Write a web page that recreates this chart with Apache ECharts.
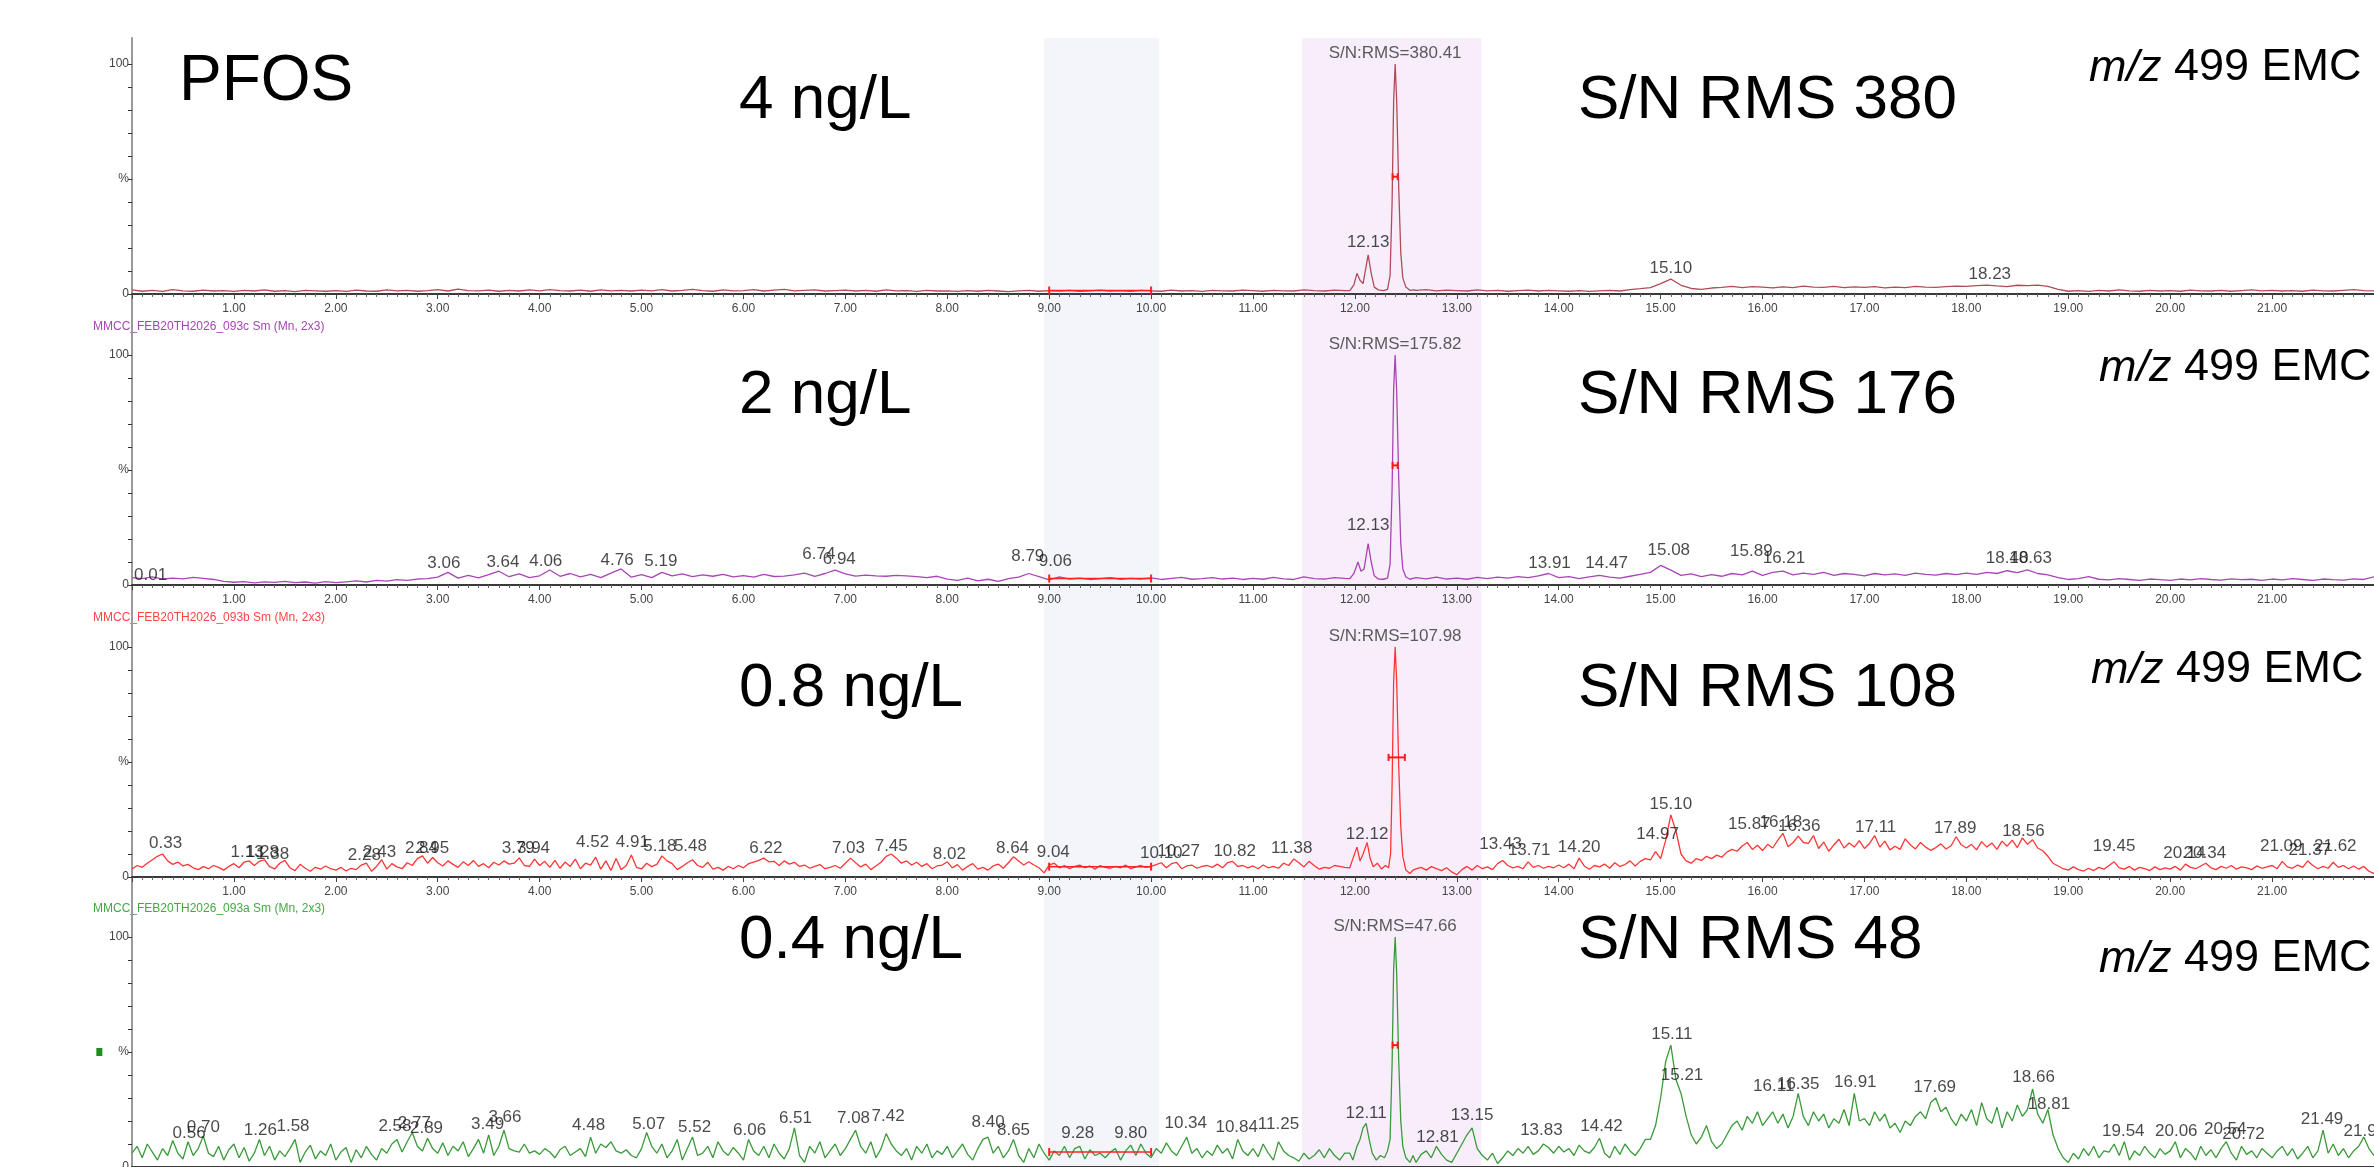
<!DOCTYPE html>
<html><head><meta charset="utf-8">
<script src="https://cdn.jsdelivr.net/npm/echarts@6/dist/echarts.min.js"></script>
<style>html,body{margin:0;padding:0;background:#fff}#c{width:2374px;height:1167px}</style>
</head><body><div id="c"></div>
<script>
// ---------------- DATA (retention time in min, intensity in % of base peak) ----------------
const STEP_COARSE = 0.1;   // sampling of traces 1 & 2
const STEP_FINE = 0.05;    // sampling of traces 3 & 4

// 4 ng/L trace, t = 0.0 .. 22.0 every 0.1 min
const trace4ngBase = [
1.8,1.2,1.6,1.1,1.9,1.4,1.2,1.7,1.3,1.5,
1.1,1.6,1.3,1.8,1.2,1.5,1.0,1.6,1.4,1.2,
1.5,1.1,1.7,1.3,1.2,1.8,1.4,1.6,1.2,1.5,
1.9,1.3,2.1,1.5,1.4,1.7,1.2,1.6,1.3,1.8,
1.4,1.9,1.5,1.3,1.7,1.2,1.8,1.4,1.6,1.3,
1.7,1.4,1.9,1.3,1.6,2.0,1.5,1.2,1.8,1.4,
1.5,1.9,1.3,1.7,2.0,1.4,1.6,1.8,1.3,1.5,
1.7,1.3,1.6,1.2,1.8,1.4,1.5,1.1,1.6,1.3,
1.4,1.1,1.5,1.2,1.6,1.3,1.0,1.4,1.6,1.2,
1.5,1.3,1.6,1.2,1.4,1.7,1.3,1.5,1.2,1.6,
1.4,1.2,1.7,1.3,1.5,1.1,1.6,1.4,1.3,1.7,
1.5,1.2,1.6,1.4,1.3,1.8,1.5,1.3,1.7,1.5,
4,9,6,17,3,2,1.6,1.9,1.4,1.7,
1.5,1.3,1.8,1.4,1.6,1.2,1.5,1.7,1.3,1.6,
1.4,1.2,1.5,1.1,1.4,1.6,1.3,1.9,2.3,2.8,
4.5,6.5,3.8,2.4,2.0,2.6,2.9,3.3,2.8,3.2,
3.0,2.7,3.1,2.8,3.4,3.0,2.9,3.3,2.8,3.1,
2.9,3.2,2.7,3.0,2.8,3.3,3.0,2.9,3.2,3.4,
3.3,3.6,3.9,3.5,3.2,3.8,3.6,3.9,3.3,2.0,
1.2,1.5,1.1,1.6,1.3,1.8,1.4,1.2,1.6,1.3,
1.5,1.2,1.7,1.4,1.3,1.6,1.2,1.5,1.8,1.4,
1.6,1.3,1.5,1.2,1.7,1.4,1.3,1.6,1.9,1.5,
1.4];
const trace4ngPeak = [[11.95,1.5],[11.99,4],[12.02,9],[12.05,6],[12.08,4.5],[12.11,12],[12.13,17],[12.16,9],[12.19,3],[12.23,1.8],[12.28,1.5],[12.32,2],[12.345,8],[12.365,40],[12.38,84],[12.395,100],[12.41,84],[12.43,46],[12.45,18],[12.47,7],[12.50,3],[12.54,1.6],[12.58,1.8]];
const labels4ng = [[12.13,17.4],[15.10,6.1],[18.23,3.5]];
const sn4ng = 'S/N:RMS=380.41';

// 2 ng/L trace, t = 0.0 .. 22.0 every 0.1 min
const trace2ngBase = [
3.2,2.8,3.5,2.6,3.0,2.7,3.3,2.9,2.4,1.6,
1.2,1.5,0.9,1.4,1.1,1.6,1.0,1.3,0.8,1.5,
1.0,1.4,1.8,1.3,2.0,1.7,2.3,2.0,2.6,2.8,
3.4,5.5,3.0,4.2,3.1,4.5,6.0,3.6,4.8,3.2,
4.0,6.5,3.8,5.0,3.5,4.6,3.2,5.2,7.0,3.4,
4.5,3.2,5.5,4.0,4.8,3.6,4.4,3.8,4.6,3.5,
4.1,3.4,4.6,3.7,3.9,4.4,5.2,3.8,5.0,6.5,
4.8,3.9,4.3,4.0,3.8,4.2,4.0,3.6,3.2,3.8,
2.6,2.0,3.0,1.8,2.5,1.6,2.8,3.4,5.0,3.6,
2.2,3.5,2.6,3.0,2.4,2.8,3.2,2.5,2.9,2.6,
3.1,2.4,2.9,3.3,2.5,2.8,3.2,2.6,3.0,2.4,
2.9,2.5,3.3,2.7,2.4,3.5,2.8,2.6,3.2,2.9,
3.0,6.0,10,18,3.0,3.0,3.2,2.7,3.4,2.6,
3.0,2.5,3.3,2.8,3.4,3.0,3.6,3.2,4.0,5.0,
3.2,3.6,2.8,3.5,4.2,3.4,3.0,3.8,4.6,5.5,
8.5,6.5,4.2,4.8,3.6,4.5,3.8,5.0,4.4,6.0,
4.2,5.5,6.0,4.4,5.2,4.6,5.5,4.2,5.0,4.6,
4.0,5.0,4.4,4.8,4.2,5.2,4.6,4.3,5.0,4.5,
5.2,4.6,5.5,5.0,6.2,5.4,6.6,5.0,4.4,3.2,
2.4,2.8,3.6,2.5,2.2,2.8,2.4,2.0,2.6,2.3,
2.0,2.6,2.2,2.8,2.4,2.1,2.7,2.3,2.5,2.0,
2.6,2.2,2.8,2.4,2.0,2.6,2.3,2.1,2.7,2.4,
3.5];
const trace2ngPeak = [[11.95,2.8],[11.99,5],[12.03,10],[12.06,6],[12.09,7],[12.13,18],[12.16,10],[12.19,4],[12.23,2.6],[12.28,2.5],[12.32,3],[12.345,9],[12.365,42],[12.38,85],[12.395,100],[12.41,84],[12.43,46],[12.45,18],[12.47,7],[12.50,3.5],[12.54,2.5],[12.58,3]];
const labels2ng = [[0.01,6.5],[3.06,4.3],[3.64,4.8],[4.06,5.2],[4.76,5.7],[5.19,5.2],[6.74,8.3],[6.94,6.1],[8.79,7.4],[9.06,5.2],[12.13,20.9],[13.91,4.3],[14.47,4.3],[15.08,10],[15.89,9.6],[16.21,6.5],[18.40,6.5],[18.63,6.5]];
const sn2ng = 'S/N:RMS=175.82';

// 0.8 ng/L trace, t = 0.00 .. 22.00 every 0.05 min
const trace08ngBase = [
3.5,5.0,4.2,6.0,7.5,9.0,10.0,7.0,5.5,6.5,4.8,5.5,4.0,3.2,4.5,3.6,5.0,4.2,3.0,4.6,
5.8,4.0,6.5,7.0,5.0,6.8,7.5,4.5,3.5,6.0,7.2,4.0,2.8,5.5,3.8,2.5,4.2,3.4,4.8,3.6,
3.0,4.2,2.6,3.8,3.2,5.2,6.0,2.5,4.6,7.5,3.4,5.8,4.4,3.6,6.2,5.0,8.0,9.2,6.0,8.5,
6.2,4.8,7.0,5.5,4.2,6.6,5.0,7.2,4.6,5.8,4.0,6.4,5.2,7.0,5.6,6.0,8.3,5.0,4.6,7.8,
5.0,6.8,4.2,7.2,3.8,6.5,4.6,7.8,3.6,6.0,5.2,8.6,3.4,7.0,2.8,8.0,3.2,5.0,9.6,4.2,
3.5,6.0,4.5,5.5,9.2,7.0,5.8,3.2,4.6,6.2,7.5,5.0,4.2,6.4,3.4,4.2,3.0,4.6,3.6,5.0,
4.0,5.8,6.5,7.2,8.2,6.6,6.8,5.0,7.0,5.6,6.4,4.6,5.2,3.8,4.6,5.4,3.6,4.2,5.0,3.8,
6.0,8.2,6.2,4.4,5.6,3.2,4.8,6.4,9.0,10.0,8.2,6.0,7.0,5.2,6.4,4.6,5.8,3.6,4.8,5.2,
6.6,4.0,5.4,3.0,4.6,5.8,3.4,4.2,3.0,4.8,5.6,3.8,6.2,8.8,7.0,5.2,6.6,5.2,4.0,1.8,
5.2,6.0,4.0,5.0,3.6,4.6,5.2,4.0,4.8,3.4,5.0,4.2,3.8,4.6,4.0,5.2,3.6,4.4,5.0,4.2,
4.6,5.4,6.2,4.0,5.8,6.4,3.6,4.8,5.2,3.8,4.6,5.0,4.2,5.6,4.0,6.2,6.8,4.6,5.0,4.0,
4.8,3.6,5.2,4.0,4.6,3.8,6.0,5.0,7.8,6.2,4.4,6.8,5.0,3.4,4.2,3.8,5.0,4.6,4.2,5.4,
13,7,15,6,4,10,100,60,5,2,2,2,3.5,4.2,3.0,4.5,3.6,2.8,4.0,2.2,
1.0,3.2,4.6,3.0,5.0,3.6,4.4,3.2,5.8,7.2,5.0,4.0,4.6,3.6,6.6,4.2,5.0,3.8,4.6,4.0,
5.2,4.0,5.6,3.6,8.2,4.8,3.4,5.0,4.4,5.6,3.8,6.2,4.6,5.4,7.0,4.8,6.8,8.0,7.4,11.0,
8.0,16.0,27.0,20.0,10.0,7.0,6.0,8.0,7.2,9.0,8.0,9.5,8.6,10.8,12.0,11.2,13.5,15.0,12.0,13.8,
11.5,14.2,12.6,16.0,19.0,13.2,15.0,17.8,15.0,14.6,18.0,12.4,15.2,11.2,14.0,16.4,12.6,14.8,13.0,15.8,
12.4,14.6,18.0,13.0,15.6,11.8,13.4,12.0,16.6,14.0,12.2,15.0,13.0,11.6,12.8,14.4,12.2,13.6,17.5,14.0,
12.6,14.2,11.8,15.4,13.0,14.8,12.0,15.6,13.4,16.0,12.8,17.0,14.2,16.2,12.6,11.4,9.0,6.0,4.8,3.6,
3.0,4.4,3.2,2.6,3.8,2.8,4.2,3.4,5.0,6.6,4.0,3.4,4.6,3.0,4.2,3.6,2.8,4.4,3.2,4.0,
3.4,4.6,3.0,5.6,4.2,3.6,4.8,6.0,4.0,3.2,4.6,3.8,5.0,3.4,4.4,4.0,3.2,4.8,3.8,4.4,
5.0,3.6,6.8,4.4,3.8,5.2,4.2,7.0,5.0,3.6,4.6,3.8,6.4,4.2,5.0,3.6,4.8,3.4,4.6,2.5,
1.5];
const trace08ngPeak = [[11.95,4.0],[11.98,8],[12.02,13],[12.05,7],[12.08,10],[12.12,15],[12.15,8],[12.18,4.5],[12.22,6],[12.26,3.5],[12.30,5],[12.33,4],[12.35,10],[12.365,40],[12.38,85],[12.395,100],[12.41,85],[12.43,48],[12.45,22],[12.47,9],[12.50,3],[12.54,1.5],[12.57,3]];
const labels08ng = [[0.33,9.6],[1.13,5.7],[1.28,5.7],[1.38,4.8],[2.28,4.3],[2.43,5.7],[2.84,7.4],[2.95,7.4],[3.79,7.4],[3.94,7.4],[4.52,10],[4.91,10],[5.18,8.3],[5.48,8.3],[6.22,7.4],[7.03,7.4],[7.45,8.3],[8.02,4.8],[8.64,7.4],[9.04,5.7],[10.10,5.2],[10.27,6.1],[10.82,6.1],[11.38,7.4],[12.12,13.5],[13.43,9.1],[13.71,6.5],[14.20,7.8],[14.97,13.5],[15.10,26.5],[15.87,17.8],[16.18,18.7],[16.36,17],[17.11,16.5],[17.89,16.1],[18.56,14.8],[19.45,8.3],[20.14,5.2],[20.34,5.2],[21.09,8.3],[21.37,6.5],[21.62,8.3]];
const sn08ng = 'S/N:RMS=107.98';

// 0.4 ng/L trace, t = 0.00 .. 22.00 every 0.05 min
const trace04ngBase = [
6.0,9.0,4.0,10.0,6.5,3.0,8.0,5.0,11.5,6.0,3.5,11.0,5.0,8.0,13.5,6.0,4.5,9.0,3.0,7.5,
10.0,4.0,8.5,2.5,6.0,12.0,5.0,9.0,3.0,7.0,4.5,8.0,12.0,2.0,6.5,9.5,3.5,7.0,5.0,10.0,
3.0,6.5,8.5,2.0,7.5,4.0,9.0,5.5,3.0,8.0,6.0,10.0,12.0,6.5,11.0,15.0,9.0,7.0,12.5,8.0,
6.0,10.5,5.0,9.0,7.0,11.0,4.5,8.0,12.0,6.0,14.0,5.0,9.0,16.0,8.0,7.0,6.5,10.0,6.0,7.0,
5.5,8.0,6.5,4.0,7.5,9.0,5.0,6.5,8.0,4.5,13.0,6.0,10.0,8.5,11.0,7.0,6.0,7.5,5.0,4.0,
8.0,15.0,9.0,6.0,10.0,4.0,7.0,12.0,3.0,8.0,13.0,5.0,6.0,9.0,4.0,11.0,7.0,5.0,8.5,6.0,
3.0,12.0,7.0,5.0,9.0,4.0,10.0,6.0,3.5,8.0,17.0,5.0,2.0,9.0,6.0,11.0,4.0,7.0,10.0,5.0,
8.0,12.0,16.0,9.0,6.0,11.0,4.0,8.0,14.5,10.0,7.0,5.0,8.0,3.0,9.0,6.0,10.0,4.0,7.0,5.5,
9.0,4.0,7.0,10.0,5.5,3.0,8.0,12.0,13.0,6.0,9.0,4.0,7.0,12.0,5.0,2.0,8.0,4.0,10.0,6.0,
3.0,7.0,5.0,9.0,4.0,8.0,9.0,3.5,7.5,5.0,6.0,4.0,6.5,8.0,3.0,7.0,9.5,5.0,10.0,6.0,
4.0,8.0,6.0,10.5,7.0,5.0,9.0,13.0,6.0,8.0,4.0,7.0,5.0,9.5,6.0,8.0,3.5,12.0,7.0,5.0,
8.0,4.5,10.0,6.0,3.0,11.0,7.0,5.0,4.0,2.5,6.0,3.5,5.0,7.5,4.0,8.0,5.0,3.0,6.0,10.0,
9,12,19,6,4,7,100,50,9,4,2,2,2.0,5.5,7.0,4.0,9.0,5.5,3.0,2.0,
6.0,10.0,14.0,17.0,8.0,5.0,3.0,6.0,1.5,4.0,7.0,5.0,8.0,6.0,9.0,5.5,7.0,10.0,8.5,6.0,
9.0,6.5,8.0,5.0,9.5,7.0,6.0,8.5,12.5,6.0,4.0,9.0,5.5,10.0,7.0,5.0,8.0,12.0,12.0,18.0,
30.0,46.0,53.0,38.0,32.0,22.0,14.0,10.0,13.0,18.0,11.0,8.0,10.0,14.0,18.0,20.0,16.0,22.0,19.0,24.0,
18.0,21.0,24.0,19.0,23.0,17.0,22.0,32.0,22.0,18.0,24.0,20.0,23.0,17.0,21.0,19.0,25.0,18.0,32.0,20.0,
21.0,18.0,24.0,20.0,23.0,17.0,19.0,15.0,20.0,18.0,22.0,24.0,21.0,28.0,30.0,24.0,26.0,21.0,18.0,23.0,
20.0,25.0,18.0,28.0,21.0,19.0,26.0,17.0,24.0,20.0,27.0,22.0,25.0,34.0,23.0,19.0,25.0,14.0,8.0,4.0,
2.0,6.0,3.5,8.0,5.0,9.0,4.0,7.0,6.5,10.0,5.0,11.0,3.0,7.0,5.0,9.0,6.0,4.0,8.0,5.5,
7.0,11.0,4.0,8.0,6.0,3.0,9.0,5.0,7.5,4.0,8.0,11.0,6.0,3.0,9.0,5.5,7.0,4.0,8.0,6.0,
4.0,7.0,9.0,5.0,8.0,3.5,6.0,9.0,4.0,7.0,16.0,6.0,10.0,5.0,8.0,4.0,7.0,9.0,13.0,8.0,
5.0];
const trace04ngPeak = [[11.95,6],[11.98,3],[12.02,9],[12.05,12],[12.08,17],[12.11,19],[12.14,12],[12.17,6],[12.21,3],[12.25,5],[12.29,4],[12.32,7],[12.345,12],[12.365,45],[12.38,86],[12.395,100],[12.41,84],[12.43,46],[12.45,20],[12.47,9],[12.50,4],[12.54,2],[12.57,5]];
const labels04ng = [[0.56,9.6],[0.70,12.2],[1.26,10.9],[1.58,12.6],[2.58,12.6],[2.77,13.9],[2.89,11.7],[3.49,13.5],[3.66,16.5],[4.48,13],[5.07,13.5],[5.52,12.2],[6.06,10.9],[6.51,16.1],[7.08,16.1],[7.42,17],[8.40,14.3],[8.65,10.9],[9.28,9.6],[9.80,9.6],[10.34,13.9],[10.84,12.2],[11.25,13.5],[12.11,18.3],[12.81,7.8],[13.15,17.4],[13.83,10.9],[14.42,12.6],[15.11,52.6],[15.21,34.8],[16.11,30],[16.35,30.9],[16.91,31.7],[17.69,29.6],[18.66,33.9],[18.81,22.2],[19.54,10.4],[20.06,10.4],[20.54,11.3],[20.72,9.1],[21.49,15.7],[21.91,10.4]];
const sn04ng = 'S/N:RMS=47.66';

// noise window (min) and its level per trace, peak-width marker level
const noiseWindow = [9.0, 10.0];
const noiseLevels = [1.5, 2.8, 4.5, 6.5];
const halfWidthMarks = [[12.37,12.42,51],[12.37,12.42,52],[12.33,12.49,52],[12.37,12.42,53]];
// highlighted time windows (min)
const windowsBlue = [8.95, 10.08];
const windowsPurple = [11.48, 13.24];

const concentrations = ['4 ng/L', '2 ng/L', '0.8 ng/L', '0.4 ng/L'];
const snText = ['S/N RMS 380', 'S/N RMS 176', 'S/N RMS 108', 'S/N RMS 48'];
const fileNames = ['MMCC_FEB20TH2026_093c Sm (Mn, 2x3)', 'MMCC_FEB20TH2026_093b Sm (Mn, 2x3)', 'MMCC_FEB20TH2026_093a Sm (Mn, 2x3)'];

// ---------------- BUILD ----------------
function build(base, step, peak) {
  const lo = peak[0][0] - 1e-6, hi = peak[peak.length - 1][0] + 1e-6;
  const pts = [];
  base.forEach((v, i) => { const t = Math.round(i * step * 1000) / 1000; if (t < lo || t > hi) pts.push([t, v]); });
  return pts.concat(peak).sort((a, b) => a[0] - b[0]);
}
const traces = [
  build(trace4ngBase, STEP_COARSE, trace4ngPeak),
  build(trace2ngBase, STEP_COARSE, trace2ngPeak),
  build(trace08ngBase, STEP_FINE, trace08ngPeak),
  build(trace04ngBase, STEP_FINE, trace04ngPeak)
];
const labelSets = [labels4ng, labels2ng, labels08ng, labels04ng];
const snLabels = [sn4ng, sn2ng, sn08ng, sn04ng];
const colors = ['#b34a58', '#a845b5', '#ff3535', '#3a9a3a'];
const fileColors = ['#a845b5', '#ff4545', '#45a845'];

const FONT = '"Liberation Sans", Arial, Helvetica, sans-serif';
const panelTop = [64, 355, 647, 937];
const X0 = 132;

const grid = [], xAxis = [], yAxis = [], series = [];
for (let i = 0; i < 4; i++) {
  grid.push({ left: X0, right: 0, top: panelTop[i], height: 230, containLabel: false, outerBoundsMode: 'none' });
  xAxis.push({
    type: 'value', gridIndex: i, min: 0, max: 22, interval: 1,
    axisLine: { show: true, onZero: false, lineStyle: { color: '#3a3a3a', width: 2 } },
    axisTick: { show: true, length: 5, lineStyle: { color: '#444', width: 1 } },
    minorTick: { show: true, splitNumber: 10, length: 3, lineStyle: { color: '#666', width: 1 } },
    splitLine: { show: false }, minorSplitLine: { show: false },
    axisLabel: { fontSize: 12, color: '#444', margin: 9, fontFamily: FONT,
      formatter: v => (v <= 0 || v >= 22) ? '' : v.toFixed(2) }
  });
  yAxis.push({
    type: 'value', gridIndex: i, min: 0, max: 100, interval: 10,
    axisLine: { show: true, lineStyle: { color: '#111', width: 2 } },
    axisTick: { show: true, length: 4, lineStyle: { color: '#333' } },
    splitLine: { show: false },
    axisLabel: { fontSize: 12, color: '#444', margin: 3, fontFamily: FONT,
      formatter: v => v === 0 ? '0' : v === 100 ? '100' : v === 50 ? (i === 3 ? '{sq|}{gap|}%' : '%') : '',
      rich: { sq: { backgroundColor: '#1e8c1e', width: 6, height: 8 }, gap: { width: 16 } } }
  });
  series.push({
    type: 'line', xAxisIndex: i, yAxisIndex: i, data: traces[i], showSymbol: false, symbol: 'none',
    lineStyle: { color: colors[i], width: 1.3 }, z: 3, animation: false, silent: true
  });
  series.push({
    type: 'line', xAxisIndex: i, yAxisIndex: i,
    data: [[noiseWindow[0], noiseLevels[i]], [noiseWindow[1], noiseLevels[i]]],
    symbol: 'rect', symbolSize: [2, 8], itemStyle: { color: '#ff2020' },
    lineStyle: { color: '#ff2020', width: 1.5 }, z: 4, animation: false, silent: true
  });
  const hm = halfWidthMarks[i];
  series.push({
    type: 'line', xAxisIndex: i, yAxisIndex: i,
    data: [[hm[0], hm[2]], [hm[1], hm[2]]],
    symbol: 'rect', symbolSize: [2, 7], itemStyle: { color: '#ff1a1a' },
    lineStyle: { color: '#ff1a1a', width: 2 }, z: 5, animation: false, silent: true
  });
  series.push({
    type: 'scatter', xAxisIndex: i, yAxisIndex: i, data: labelSets[i], symbolSize: 0, z: 6,
    animation: false, silent: true,
    label: { show: true, position: 'top', distance: 3, fontSize: 17, color: '#1a1a1a', fontFamily: FONT,
      formatter: p => p.value[0].toFixed(2), align: 'center' },
    labelLayout: p => (p.dataIndex === 0 && labelSets[i][0][0] < 0.2) ? { x: X0 + 2, align: 'left' } : {}
  });
  series.push({
    type: 'scatter', xAxisIndex: i, yAxisIndex: i, data: [[12.395, 100]], symbolSize: 0, z: 6,
    animation: false, silent: true,
    label: { show: true, position: 'top', distance: 2, fontSize: 17, color: '#333', fontFamily: FONT,
      formatter: () => snLabels[i] }
  });
}
// background band grid (spans all panels)
grid.push({ left: X0, right: 0, top: 38, bottom: 0, containLabel: false, outerBoundsMode: 'none' });
xAxis.push({ type: 'value', gridIndex: 4, min: 0, max: 22, show: false });
yAxis.push({ type: 'value', gridIndex: 4, min: 0, max: 1, axisLine: { show: true, lineStyle: { color: '#9a9a9a', width: 2 } },
  axisTick: { show: false }, axisLabel: { show: false }, splitLine: { show: false } });
series.push({
  type: 'line', xAxisIndex: 4, yAxisIndex: 4, data: [[0, 0]], symbol: 'none', lineStyle: { opacity: 0 }, z: -5,
  animation: false, silent: true,
  markArea: { silent: true, z: -5, data: [
    [{ xAxis: windowsBlue[0], itemStyle: { color: '#f3f5fb' } }, { xAxis: windowsBlue[1] }],
    [{ xAxis: windowsPurple[0], itemStyle: { color: '#f8eefb' } }, { xAxis: windowsPurple[1] }]
  ] }
});

// text overlays
const bigFont = '62px ' + FONT;
const graphic = [
  { type: 'text', x: 179, y: 82, style: { text: 'PFOS', font: '64px ' + FONT, fill: '#000', align: 'left', verticalAlign: 'middle' } }
];
const concY = [101, 396, 689, 941];
const mzX = [2089, 2099, 2091, 2099], mzY = [68, 368, 670, 959];
for (let i = 0; i < 4; i++) {
  graphic.push({ type: 'text', x: 739, y: concY[i], style: { text: concentrations[i], font: bigFont, fill: '#000', align: 'left', verticalAlign: 'middle' } });
  graphic.push({ type: 'text', x: 1578, y: concY[i], style: { text: snText[i], font: bigFont, fill: '#000', align: 'left', verticalAlign: 'middle' } });
  graphic.push({ type: 'text', x: mzX[i], y: mzY[i], style: { text: '{i|m/z} 499 EMC', font: '45px ' + FONT, fill: '#000', align: 'left', verticalAlign: 'middle',
    rich: { i: { fontStyle: 'italic', fontSize: 45, fontFamily: FONT, fill: '#000' } } } });
}
const fileY = [327, 618, 909];
for (let i = 0; i < 3; i++) {
  graphic.push({ type: 'text', x: 93, y: fileY[i], style: { text: fileNames[i], font: '12px ' + FONT, fill: fileColors[i], align: 'left', verticalAlign: 'middle' } });
}
// sanity check on array lengths
const checks = [[trace4ngBase, 221], [trace2ngBase, 221], [trace08ngBase, 441], [trace04ngBase, 441]];
checks.forEach((c, k) => { if (c[0].length !== c[1]) graphic.push({ type: 'text', x: 300, y: 20 + k * 20, style: { text: 'LEN ' + k + ' = ' + c[0].length, font: '16px sans-serif', fill: 'red' } }); });

const chart = echarts.init(document.getElementById('c'), null, { renderer: 'canvas' });
chart.setOption({ animation: false, backgroundColor: '#fff', grid, xAxis, yAxis, series, graphic });
</script>
</body></html>
